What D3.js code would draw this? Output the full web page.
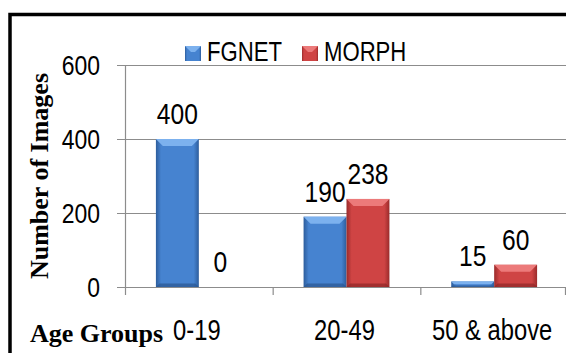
<!DOCTYPE html>
<html><head><meta charset="utf-8">
<script src="https://cdn.jsdelivr.net/npm/d3@7/dist/d3.min.js"></script>
<style>body{margin:0;background:#fff}svg{display:block}</style>
</head><body>
<script>
const categories = ["0-19", "20-49", "50 & above"];
const seriesNames = ["FGNET", "MORPH"];
const fgnet = [400, 190, 15];
const morph = [0, 238, 60];
const yTicks = [0, 200, 400, 600];

const W = 566, H = 353;
const svg = d3.select("body").append("svg").attr("width", W).attr("height", H);
const defs = svg.append("defs");

const palette = {
  FGNET: {mid: "#4683d0", edge: "#2d5d9c", top: "#7cb1ee", bot: "#2a5690"},
  MORPH: {mid: "#cf4444", edge: "#9a2b2b", top: "#ec7a7a", bot: "#8e2626"}
};
seriesNames.forEach(s => {
  const g = defs.append("linearGradient").attr("id", "g" + s).attr("x1", 0).attr("x2", 1).attr("y1", 0).attr("y2", 0);
  g.append("stop").attr("offset", "0").attr("stop-color", palette[s].edge);
  g.append("stop").attr("offset", "0.12").attr("stop-color", palette[s].mid);
  g.append("stop").attr("offset", "0.88").attr("stop-color", palette[s].mid);
  g.append("stop").attr("offset", "1").attr("stop-color", palette[s].edge);
});

const plot = {left: 125, right: 568, top: 65, bottom: 287};
const x = d3.scaleBand().domain(categories).range([plot.left, plot.right]).paddingInner(0).paddingOuter(0);
const xs = d3.scaleBand().domain(seriesNames).range([0, x.bandwidth()]).paddingInner(0).paddingOuter(0.72);
const y = d3.scaleLinear().domain([0, 600]).range([plot.bottom, plot.top]);

const sansFont = "'Liberation Sans', Arial, sans-serif";
const serifFont = "'Liberation Serif', 'Times New Roman', serif";
const grey = "#8c8c8c";
const NARROW = 0.82;

// condensed sans text helper: group with horizontal squeeze
function narrow(parent, data, fx, fy, txt, size, anchor) {
  const g = parent.append("g").selectAll("g").data(data).join("g")
    .attr("transform", (d, i) => `translate(${fx(d, i)},${fy(d, i)}) scale(${NARROW},1)`);
  g.append("text").attr("text-anchor", anchor).attr("font-family", sansFont)
    .attr("font-size", size).attr("fill", "#000").text(txt);
  return g;
}

// frame
svg.append("rect").attr("x", 10).attr("y", 14.5).attr("width", 700).attr("height", 500)
  .attr("fill", "none").attr("stroke", "#000").attr("stroke-width", 3.5);

// gridlines
svg.append("g").selectAll("line").data(yTicks.filter(d => d > 0)).join("line")
  .attr("x1", plot.left - 8).attr("x2", W).attr("y1", d => Math.round(y(d)) + 0.5).attr("y2", d => Math.round(y(d)) + 0.5)
  .attr("stroke", grey).attr("stroke-width", 1.2);

// y axis line and zero line
svg.append("line").attr("x1", plot.left + 0.5).attr("x2", plot.left + 0.5).attr("y1", plot.top).attr("y2", plot.bottom + 8)
  .attr("stroke", grey).attr("stroke-width", 1.2);
svg.append("line").attr("x1", plot.left - 8).attr("x2", W).attr("y1", Math.round(y(0)) + 0.5).attr("y2", Math.round(y(0)) + 0.5)
  .attr("stroke", grey).attr("stroke-width", 1.2);
// category tick marks
svg.append("g").selectAll("line").data(categories.slice(1).map(c => x(c)).concat([plot.right - 3])).join("line")
  .attr("x1", d => d + 0.5).attr("x2", d => d + 0.5).attr("y1", plot.bottom).attr("y2", plot.bottom + 8)
  .attr("stroke", grey).attr("stroke-width", 1.2);

// y tick labels
narrow(svg, yTicks, () => 100, d => y(d) + 10, d => d, 28, "end");

// bars
const rows = [];
categories.forEach((c, i) => {
  rows.push({cat: c, s: "FGNET", v: fgnet[i]});
  rows.push({cat: c, s: "MORPH", v: morph[i]});
});
const bars = svg.append("g").selectAll("g").data(rows).join("g");
bars.each(function(d) {
  const g = d3.select(this);
  const bx = x(d.cat) + xs(d.s), bw = xs.bandwidth();
  const by = y(d.v), bh = y(0) - y(d.v);
  if (bh <= 0) return;
  g.append("rect").attr("x", bx).attr("y", by).attr("width", bw).attr("height", bh).attr("fill", `url(#g${d.s})`);
  const bev = Math.min(7, bh / 2);
  g.append("path").attr("d", `M${bx},${by}L${bx + bw},${by}L${bx + bw - bev},${by + bev}L${bx + bev},${by + bev}Z`)
    .attr("fill", palette[d.s].top);
  g.append("path").attr("d", `M${bx},${by + bh}L${bx + bw},${by + bh}L${bx + bw - bev * 0.5},${by + bh - bev * 0.5}L${bx + bev * 0.5},${by + bh - bev * 0.5}Z`)
    .attr("fill", palette[d.s].bot).attr("opacity", 0.7);
});

// value labels
narrow(svg, rows, d => x(d.cat) + xs(d.s) + xs.bandwidth() / 2, d => y(d.v) - 15, d => d.v, 30, "middle");

// x category labels
narrow(svg, categories, d => x(d) + x.bandwidth() / 2 - 2, () => 340, d => d, 29, "middle");

// axis titles
svg.append("text").attr("x", 30).attr("y", 342).attr("font-family", serifFont).attr("font-weight", "bold")
  .attr("font-size", 26).attr("fill", "#000").text("Age Groups");
svg.append("text").attr("transform", "translate(48,176) rotate(-90)").attr("text-anchor", "middle")
  .attr("font-family", serifFont).attr("font-weight", "bold").attr("font-size", 26).attr("fill", "#000")
  .text("Number of Images");

// legend
const legendPos = [185, 302];
const leg = svg.append("g").selectAll("g").data(seriesNames).join("g")
  .attr("transform", (d, i) => `translate(${legendPos[i]},46)`);
leg.append("rect").attr("width", 16).attr("height", 15).attr("fill", d => `url(#g${d})`);
leg.append("path").attr("d", "M0,0L16,0L10,6L6,6Z").attr("fill", d => palette[d].top);
leg.append("g").attr("transform", "translate(22,15) scale(" + NARROW + ",1)")
  .append("text").attr("font-family", sansFont).attr("font-size", 27).attr("fill", "#000").text(d => d);
</script>
</body></html>
